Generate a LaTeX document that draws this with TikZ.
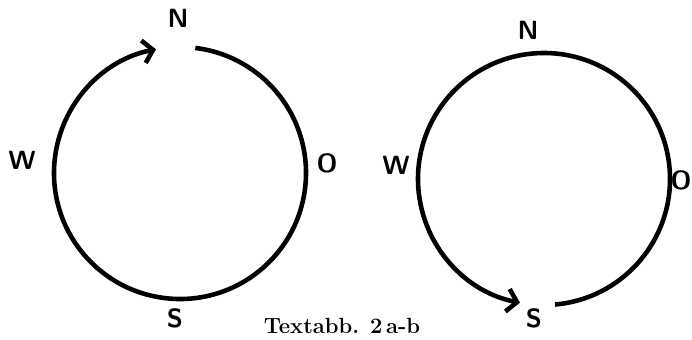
\documentclass[tikz,border=0pt]{standalone}
\usepackage{tikz}
\usetikzlibrary{arrows.meta}
\tikzset{
  rim/.style={line width=2.6pt,black},
  ar/.style={-{Straight Barb[length=5.5pt,width=13pt]}},
  lab/.style={font=\fontsize{15}{15}\selectfont\sffamily\bfseries,inner sep=0pt},
  capt/.style={font=\fontsize{12.5}{12.5}\selectfont\bfseries,inner sep=0pt},
}
\begin{document}
\begin{tikzpicture}[x=0.02cm,y=0.02cm]
    \useasboundingbox (0,0) rectangle (692,339);
    % a: left ring, running clockwise up to N
    \coordinate (ca) at (180,166);
    \draw[rim,ar] (ca) ++(83:126) arc[start angle=83,end angle=-259,radius=126];
    \node[lab] (na) at (178,321) {N};
    \node[lab] (wa) at (22,179)  {W};
    \node[lab] (oa) at (327,176) {O};
    \node[lab] (sa) at (175,21)  {S};
    % b: right ring, running counter-clockwise down to S
    \coordinate (cb) at (544,160);
    \draw[rim,ar] (cb) ++(-85:126) arc[start angle=-85,end angle=259,radius=126];
    \node[lab] (nb) at (528,309) {N};
    \node[lab] (wb) at (396,174) {W};
    \node[lab] (ob) at (681,159) {O};
    \node[lab] (sb) at (534,21)  {S};
    \node[capt] (cap) at (342,13) {Textabb. 2\,a-b};
  \end{tikzpicture}
\end{document}
